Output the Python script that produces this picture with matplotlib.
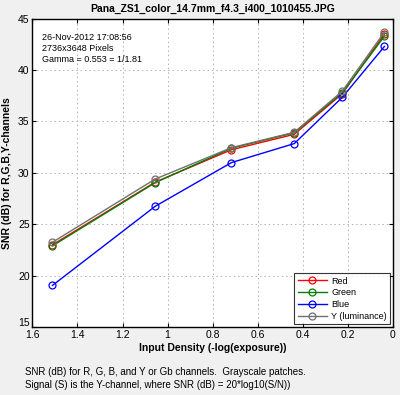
import matplotlib
matplotlib.use("Agg")
import matplotlib.pyplot as plt
import matplotlib.transforms as mtransforms

plt.rcParams['font.family'] = ['Liberation Sans', 'DejaVu Sans']

density = [1.511, 1.055, 0.717, 0.438, 0.225, 0.038]
snr_red = [23.0, 29.1, 32.25, 33.75, 37.7, 43.5]
snr_green = [22.9, 29.05, 32.4, 33.9, 37.8, 43.3]
snr_blue = [19.05, 26.75, 31.0, 32.85, 37.35, 42.3]
snr_y = [23.25, 29.4, 32.45, 33.95, 37.95, 43.7]
series_names = ["Red", "Green", "Blue", "Y (luminance)"]
series_colors = ["#ff0000", "#008000", "#0000ff", "#707070"]

xticks = [1.6, 1.4, 1.2, 1, 0.8, 0.6, 0.4, 0.2, 0]
yticks = [15, 20, 25, 30, 35, 40, 45]

fig = plt.figure(figsize=(4.0, 3.95), dpi=100, facecolor="#f0f0f0")
ax = fig.add_axes([0.081, 0.172, 0.9015, 0.7807])
ax.set_facecolor("white")

for vals, name, col in zip([snr_red, snr_green, snr_blue, snr_y], series_names, series_colors):
    ax.plot(density, vals, color=col, lw=1.0, marker="o", markersize=5,
            markerfacecolor="none", markeredgecolor=col, markeredgewidth=0.9, label=name)

ax.set_xlim(1.6, 0)
ax.set_ylim(15, 45)
ax.set_xticks(xticks)
ax.set_xticklabels([("%g" % t) for t in xticks])
ax.set_yticks(yticks)
ax.tick_params(direction="in", top=True, right=True, length=3, width=0.8,
               labelsize=7.5, pad=2, colors="black")
for s in ax.spines.values():
    s.set_linewidth(1.0)
ax.grid(True, linestyle=(0, (1.5, 3)), color="#b0b0b0", linewidth=0.7)

# MATLAB-style: bottom y label sits slightly above the corner
fig.canvas.draw()
lbl0 = ax.get_yticklabels()[0]
lbl0.set_transform(lbl0.get_transform() + mtransforms.ScaledTranslation(0, 4 / 72, fig.dpi_scale_trans))

ax.set_xlabel("Input Density (-log(exposure))", fontsize=7.5, fontweight="bold", labelpad=2)
ax.set_ylabel("SNR (dB) for R,G,B,Y-channels", fontsize=7.5, fontweight="bold", labelpad=4)
ax.set_title("Pana_ZS1_color_14.7mm_f4.3_i400_1010455.JPG", fontsize=7.5,
             fontweight="bold", pad=5)

ax.text(0.027, 0.955, "26-Nov-2012 17:08:56\n2736x3648 Pixels\nGamma = 0.553 = 1/1.81",
        transform=ax.transAxes, fontsize=6.5, va="top", ha="left", linespacing=1.3)

leg = ax.legend(loc="lower right", fontsize=6.5, frameon=True, fancybox=False,
                edgecolor="black", borderpad=0.4, labelspacing=0.3, handlelength=3.2,
                handletextpad=0.5, borderaxespad=0.3)
leg.get_frame().set_linewidth(0.8)

fig.text(0.062, 0.058, "SNR (dB) for R, G, B, and Y or Gb channels.  Grayscale patches.",
         fontsize=7, ha="left", va="center")
fig.text(0.062, 0.025, "Signal (S) is the Y-channel, where SNR (dB) = 20*log10(S/N))",
         fontsize=7, ha="left", va="center")

fig.savefig("out.png", dpi=100, facecolor=fig.get_facecolor())
